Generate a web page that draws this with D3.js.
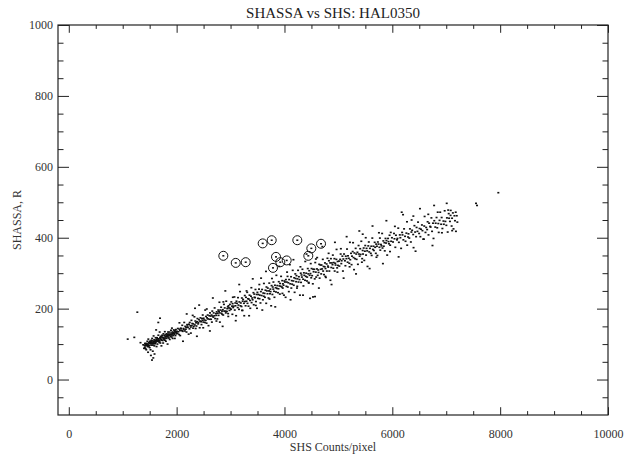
<!DOCTYPE html>
<html><head><meta charset="utf-8">
<script src="https://cdn.jsdelivr.net/npm/d3@7"></script>
<style>
body{margin:0;background:#fff}
svg{display:block}
text{font-family:"Liberation Serif","Times New Roman",serif}
</style>
</head><body>
<svg id="chart" width="624" height="456"></svg>
<script>
const chartTitle = "SHASSA vs SHS: HAL0350";
const xTitle = "SHS Counts/pixel";
const yTitle = "SHASSA, R";
const xTickValues = [0, 2000, 4000, 6000, 8000, 10000];
const xTickLabels = ["0", "2000", "4000", "6000", "8000", "10000"];
const yTickValues = [0, 200, 400, 600, 800, 1000];
const yTickLabels = ["0", "200", "400", "600", "800", "1000"];

// circled (flagged) points
const flaggedX = [2866, 3096, 3281, 3596, 3763, 4238, 3843, 3923, 4041, 3787, 4498, 4442, 4678];
const flaggedY = [349, 329, 331, 384, 393, 393, 346, 331, 336, 315, 370, 349, 383];

// main scatter: [SHS counts, SHASSA R]
const pointsLow = [
[1093,114],[1215,119],[1271,190],[1330,104],[1380,98],[1395,88],[1523,68],[1543,55],[1567,61],[1660,161],[1692,173],[1470,77],[1558,80],[1590,72],[1620,140],
[1404,97],[1410,91],[1413,102],[1418,95],[1425,87],[1429,100],[1431,97],[1437,84],[1442,102],[1445,100],[1453,96],[1457,108],[1462,93],[1468,100],[1471,97],[1475,114],[1481,93],[1484,104],[1489,96],[1496,102],[1500,90],[1502,108],[1508,105],[1513,101],[1516,84],[1524,108],[1528,97],[1533,111],[1539,104],[1542,101],[1546,116],[1552,103],[1555,109],[1560,97],[1567,107],[1571,101],[1573,123],[1579,104],[1584,112],[1587,95],[1595,108],[1599,101],[1604,110],[1610,118],[1613,104],[1617,108],[1624,114],[1628,93],[1630,111],[1636,118],[1641,108],[1644,100],[1652,115],[1656,111],[1661,125],[1667,107],[1670,115],[1674,111],[1681,105],[1685,134],[1687,109],[1693,119],[1698,103],[1701,115],[1709,122],[1713,113],[1718,95],[1724,120],[1727,111],[1731,125],[1738,118],[1742,110],[1744,119],[1750,103],[1755,129],[1758,117],[1766,114],[1770,125],[1775,117],[1781,135],[1784,111],[1788,122],[1795,117],[1799,126],[1801,108],[1807,121],[1812,129],[1815,116],[1823,125],[1827,121],[1832,100],[1838,128],[1841,134],[1845,120],[1852,125],[1856,117],[1858,128],[1864,124],[1869,134],[1872,113],[1880,128],[1884,126],[1889,121],[1895,139],[1898,126],[1902,131],[1909,120],[1913,145],[1915,126],[1921,134],[1926,116],[1929,130],[1937,124],[1941,133],[1946,140],[1952,130],[1955,128],[1959,138],[1966,116],[1970,134],[1972,137],[1978,124],[1983,134],[1986,141],[1994,129],[1998,133]
];
const pointsMid1 = [
[2006,136],[2018,130],[2023,144],[2032,135],[2046,127],[2052,142],[2062,138],[2066,124],[2077,145],[2085,143],[2098,138],[2104,153],[2113,136],[2128,144],[2133,141],[2141,161],[2153,137],[2160,150],[2170,142],[2176,147],[2183,134],[2195,155],[2200,151],[2209,147],[2223,128],[2229,156],[2239,143],[2243,161],[2254,152],[2262,148],[2275,167],[2281,152],[2290,158],[2305,145],[2310,157],[2318,150],[2330,177],[2337,154],[2341,201],[2347,165],[2353,144],[2360,160],[2368,151],[2379,163],[2386,172],[2399,157],[2404,161],[2413,169],[2428,146],[2434,165],[2442,174],[2454,163],[2461,155],[2471,172],[2477,167],[2484,182],[2496,162],[2501,173],[2510,168],[2524,161],[2530,196],[2540,167],[2544,178],[2555,159],[2563,174],[2576,182],[2582,171],[2591,152],[2606,180],[2611,170],[2619,188],[2631,179],[2638,170],[2648,182],[2654,162],[2661,193],[2669,179],[2680,176],[2687,188],[2700,180],[2705,202],[2714,172],[2729,186],[2735,181],[2743,191],[2755,171],[2762,187],[2772,196],[2778,181],[2785,192],[2797,188],[2802,162],[2811,196],[2825,204],[2831,187],[2841,193],[2845,184],[2856,197],[2864,182],[2866,219],[2877,212],[2883,193],[2892,202],[2907,193],[2912,188],[2920,221],[2932,192],[2939,200],[2949,205],[2955,186],[2962,208],[2970,202],[2981,195],[2988,212],[2996,201]
];
const pointsMid2 = [
[3009,198],[3014,219],[3027,207],[3034,184],[3038,214],[3049,203],[3057,207],[3072,233],[3078,196],[3088,216],[3091,208],[3103,180],[3110,221],[3119,215],[3133,203],[3138,231],[3146,210],[3157,198],[3163,219],[3176,248],[3185,208],[3190,216],[3203,206],[3210,230],[3214,195],[3225,221],[3233,226],[3248,215],[3254,180],[3264,237],[3267,220],[3279,208],[3286,232],[3295,221],[3309,246],[3314,215],[3322,228],[3333,207],[3339,227],[3352,238],[3361,223],[3366,201],[3379,235],[3386,259],[3390,217],[3401,230],[3409,225],[3424,245],[3430,211],[3440,241],[3443,232],[3455,231],[3462,254],[3471,220],[3485,240],[3490,201],[3498,246],[3509,229],[3515,240],[3528,255],[3537,228],[3542,238],[3555,216],[3562,248],[3566,286],[3577,237],[3585,254],[3600,225],[3606,244],[3616,235],[3619,271],[3631,243],[3638,232],[3647,252],[3661,215],[3666,261],[3674,250],[3685,242],[3691,258],[3704,230],[3713,250],[3718,272],[3731,242],[3738,255],[3742,248],[3753,208],[3761,265],[3776,240],[3782,261],[3792,255],[3795,275],[3807,249],[3814,232],[3823,266],[3837,259],[3842,247],[3850,294],[3861,257],[3867,265],[3880,245],[3889,256],[3894,276],[3907,264],[3914,241],[3918,271],[3929,263],[3937,291],[3952,261],[3958,279],[3968,258],[3971,270],[3983,266],[3990,238],[3999,278]
];
const pointsMid3 = [
[4008,275],[4021,232],[4026,282],[4036,263],[4043,275],[4057,291],[4061,261],[4072,273],[4081,248],[4087,282],[4099,324],[4107,270],[4122,290],[4127,258],[4136,279],[4143,269],[4153,308],[4166,278],[4172,266],[4180,287],[4188,246],[4201,298],[4206,285],[4216,276],[4223,293],[4237,263],[4241,284],[4252,308],[4261,275],[4267,290],[4279,282],[4287,238],[4302,300],[4307,274],[4316,295],[4323,289],[4333,311],[4346,283],[4352,264],[4360,301],[4368,294],[4381,280],[4386,333],[4396,291],[4403,300],[4417,278],[4421,289],[4432,313],[4441,298],[4447,274],[4459,307],[4467,294],[4474,229],[4482,299],[4487,327],[4496,287],[4503,313],[4513,293],[4526,270],[4529,233],[4532,311],[4540,304],[4553,311],[4561,284],[4566,234],[4571,330],[4581,303],[4588,289],[4602,312],[4606,344],[4617,294],[4626,309],[4632,302],[4644,325],[4652,286],[4667,323],[4672,311],[4681,298],[4688,323],[4698,312],[4711,339],[4717,306],[4725,319],[4733,296],[4746,318],[4751,329],[4761,313],[4768,288],[4782,326],[4786,306],[4797,342],[4806,320],[4812,317],[4824,335],[4832,306],[4847,329],[4852,280],[4861,341],[4868,316],[4878,329],[4891,324],[4897,351],[4905,314],[4913,330],[4926,341],[4931,306],[4941,328],[4948,323],[4962,339],[4966,367],[4977,315],[4986,333],[4992,322]
];
const pointsHigh1 = [
[5011,334],[5018,320],[5033,339],[5042,354],[5054,327],[5060,335],[5074,348],[5084,306],[5092,340],[5105,354],[5121,335],[5130,321],[5137,348],[5149,341],[5160,368],[5171,331],[5178,349],[5193,342],[5202,328],[5214,387],[5220,338],[5234,356],[5244,324],[5252,348],[5265,361],[5281,344],[5290,310],[5297,357],[5309,341],[5320,370],[5331,354],[5338,339],[5353,359],[5362,325],[5374,378],[5380,354],[5394,348],[5404,369],[5412,353],[5425,390],[5441,341],[5450,364],[5451,410],[5457,354],[5469,371],[5480,336],[5491,362],[5498,378],[5513,351],[5522,370],[5534,363],[5540,319],[5554,377],[5564,388],[5572,360],[5585,370],[5601,356],[5610,376],[5617,350],[5629,399],[5640,367],[5651,376],[5658,364],[5673,387],[5682,373],[5694,356],[5700,382],[5714,376],[5724,350],[5732,388],[5745,382],[5761,373],[5770,399],[5777,365],[5789,381],[5800,377],[5811,412],[5818,371],[5833,391],[5842,376],[5854,386],[5860,363],[5874,398],[5884,385],[5892,392],[5905,351],[5921,398],[5930,389],[5937,383],[5949,407],[5960,379],[5971,415],[5978,390],[5993,400]
];
const pointsHigh2 = [
[6013,388],[6031,412],[6040,397],[6056,373],[6067,407],[6087,394],[6095,398],[6110,427],[6122,387],[6139,408],[6149,400],[6163,370],[6174,472],[6182,415],[6189,408],[6205,394],[6218,425],[6236,404],[6245,390],[6261,413],[6272,445],[6292,402],[6300,411],[6315,399],[6327,425],[6344,388],[6354,416],[6368,421],[6387,409],[6390,461],[6394,372],[6410,434],[6423,416],[6441,403],[6450,429],[6466,418],[6477,444],[6497,412],[6505,426],[6520,403],[6532,424],[6549,436],[6559,420],[6573,396],[6592,433],[6599,460],[6615,415],[6628,429],[6646,423],[6655,445],[6671,408],[6682,441],[6702,432],[6710,430],[6725,456],[6737,418],[6754,441],[6764,398],[6775,491],[6778,448],[6797,430],[6804,441],[6820,457],[6833,428],[6853,440],[6861,415],[6876,449],[6888,472],[6905,438],[6915,457],[6929,426],[6948,447],[6955,438],[6971,476],[6984,446],[7002,435],[7009,497],[7013,456],[7027,416],[7046,468],[7053,455],[7069,446],[7080,463],[7083,477],[7100,433],[7108,455],[7123,470],[7135,425],[7152,462],[7162,448],[7176,472],[7180,418],[7195,462],[7206,444],[7552,497],[7571,491],[7966,527]
];
// looser points above and below the main band
const pointsSpread = [
[2052,160],[2118,108],[2187,185],[2264,131],[2298,181],[2376,122],[2418,210],[2493,146],[2559,199],[2617,137],[2672,230],[2738,165],[2794,218],[2853,150],[2903,250],[2958,178],
[3043,232],[3096,166],[3161,268],[3222,195],[3297,250],[3344,180],[3412,284],[3468,209],[3534,268],[3589,196],[3657,305],[3722,227],[3768,285],[3829,205],[3903,319],[3962,243],
[4048,303],[4113,225],[4166,338],[4232,258],[4296,318],[4344,238],[4409,354],[4451,272],[4583,340],[4638,258],[4703,375],[4758,291],[4819,356],[4873,268],[4936,387],[4982,303],
[5046,369],[5097,286],[5153,403],[5208,318],[5272,386],[5327,298],[5388,419],[5436,331],[5507,400],[5579,313],[5633,433],[5706,345],[5752,414],[5826,327],[5890,448],[5957,361],
[6048,432],[6117,346],[6199,465],[6276,379],[6358,450],[6431,362],[6513,482],[6586,396],[6667,466],[6745,378],[6842,472],[6920,414],[7036,478],[7110,420]
];
const scatterPoints = [].concat(pointsLow, pointsMid1, pointsMid2, pointsMid3, pointsHigh1, pointsHigh2, pointsSpread);

const W = 624, H = 456;
const m = {left: 58, right: 16, top: 25, bottom: 41};
const svg = d3.select("#chart");
const x = d3.scaleLinear().domain([-200, 10000]).range([m.left, W - m.right]);
const y = d3.scaleLinear().domain([-100, 1000]).range([H - m.bottom, m.top]);
const pw = W - m.left - m.right, ph = H - m.top - m.bottom;
const xMajorLen = 0.02 * ph, yMajorLen = 0.02 * pw;
const xMinorTicks = d3.range(0, 10001, 500).filter(v => v % 2000 !== 0);
const yMinorTicks = d3.range(-50, 1001, 50).filter(v => v % 200 !== 0);

function styleAxis(g){
  g.select(".domain").remove();
  g.selectAll(".tick line").attr("stroke", "#222").attr("stroke-width", 1);
  g.selectAll(".tick text").attr("font-size", 12).attr("font-family", '"Liberation Serif", serif').attr("fill", "#333");
}

svg.append("g").attr("transform", `translate(0,${H - m.bottom})`)
  .call(d3.axisBottom(x).tickValues(xTickValues).tickFormat((d,i) => xTickLabels[i]).tickSizeInner(-xMajorLen).tickSizeOuter(0).tickPadding(14))
  .call(styleAxis);
svg.append("g").attr("transform", `translate(0,${H - m.bottom})`)
  .call(d3.axisBottom(x).tickValues(xMinorTicks).tickFormat("").tickSizeInner(-xMajorLen / 2).tickSizeOuter(0))
  .call(styleAxis);
svg.append("g").attr("transform", `translate(0,${m.top})`)
  .call(d3.axisTop(x).tickValues(xTickValues).tickFormat("").tickSizeInner(-xMajorLen).tickSizeOuter(0))
  .call(styleAxis);
svg.append("g").attr("transform", `translate(0,${m.top})`)
  .call(d3.axisTop(x).tickValues(xMinorTicks).tickFormat("").tickSizeInner(-xMajorLen / 2).tickSizeOuter(0))
  .call(styleAxis);
svg.append("g").attr("transform", `translate(${m.left},0)`)
  .call(d3.axisLeft(y).tickValues(yTickValues).tickFormat((d,i) => yTickLabels[i]).tickSizeInner(-yMajorLen).tickSizeOuter(0).tickPadding(5))
  .call(styleAxis);
svg.append("g").attr("transform", `translate(${m.left},0)`)
  .call(d3.axisLeft(y).tickValues(yMinorTicks).tickFormat("").tickSizeInner(-yMajorLen / 2).tickSizeOuter(0))
  .call(styleAxis);
svg.append("g").attr("transform", `translate(${W - m.right},0)`)
  .call(d3.axisRight(y).tickValues(yTickValues).tickFormat("").tickSizeInner(-yMajorLen).tickSizeOuter(0))
  .call(styleAxis);
svg.append("g").attr("transform", `translate(${W - m.right},0)`)
  .call(d3.axisRight(y).tickValues(yMinorTicks).tickFormat("").tickSizeInner(-yMajorLen / 2).tickSizeOuter(0))
  .call(styleAxis);

svg.append("rect").attr("x", m.left).attr("y", m.top).attr("width", pw).attr("height", ph)
  .attr("fill", "none").attr("stroke", "#222").attr("stroke-width", 1.2);

svg.append("g").selectAll("rect").data(scatterPoints).join("rect")
  .attr("x", d => x(d[0]) - 1).attr("y", d => y(d[1]) - 0.8)
  .attr("width", 2).attr("height", 1.6).attr("fill", "#111");

const flagged = flaggedX.map((v, i) => [v, flaggedY[i]]);
svg.append("g").selectAll("circle").data(flagged).join("circle")
  .attr("cx", d => x(d[0])).attr("cy", d => y(d[1])).attr("r", 4.5)
  .attr("fill", "none").attr("stroke", "#111").attr("stroke-width", 1);
svg.append("g").selectAll("rect").data(flagged).join("rect")
  .attr("x", d => x(d[0]) - 1).attr("y", d => y(d[1]) - 0.75)
  .attr("width", 2).attr("height", 1.5).attr("fill", "#111");

svg.append("text").attr("x", (m.left + W - m.right) / 2).attr("y", 18)
  .attr("text-anchor", "middle").attr("font-size", 15).attr("fill", "#222").text(chartTitle);
svg.append("text").attr("x", (m.left + W - m.right) / 2).attr("y", 451)
  .attr("text-anchor", "middle").attr("font-size", 12).attr("fill", "#333").text(xTitle);
svg.append("text").attr("transform", `translate(21,${(m.top + H - m.bottom) / 2}) rotate(-90)`)
  .attr("text-anchor", "middle").attr("font-size", 12).attr("fill", "#333").text(yTitle);
</script>
</body></html>
